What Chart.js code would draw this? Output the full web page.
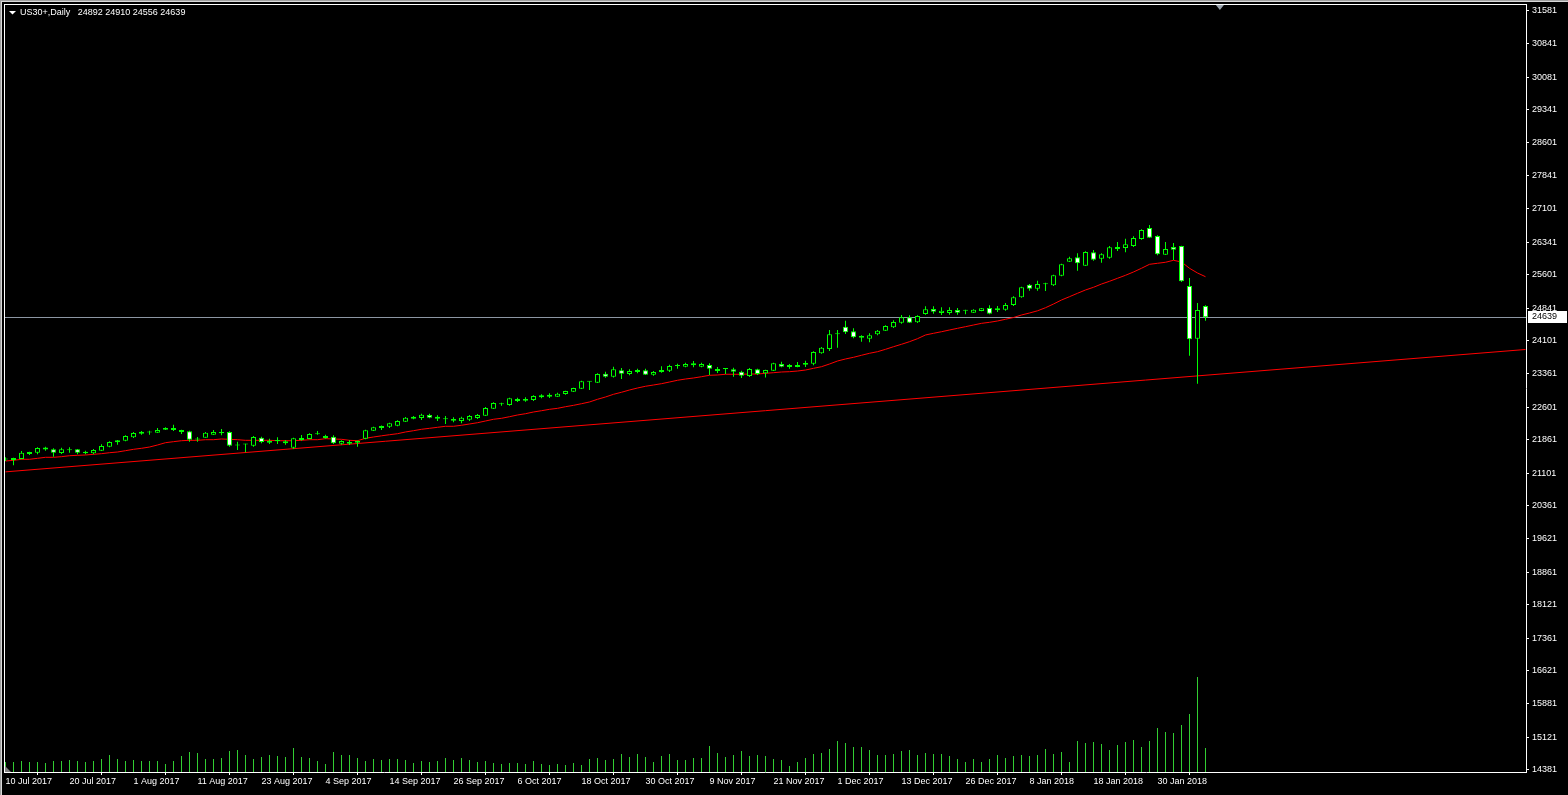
<!DOCTYPE html>
<html>
<head>
<meta charset="utf-8">
<title>US30+,Daily</title>
<script src="https://cdn.jsdelivr.net/npm/chart.js@4.4.1/dist/chart.umd.min.js"></script>
<style>
    html, body { margin: 0; padding: 0; background: #000; }
    canvas { display: block; }
</style>
</head>
<body>
<canvas id="myChart" width="1568" height="795"></canvas>
<script>
const symbol = 'US30+,Daily';

// one date label every 8 bars, first bar = 10 Jul 2017
const tickLabels = ['10 Jul 2017', '20 Jul 2017', '1 Aug 2017', '11 Aug 2017', '23 Aug 2017', '4 Sep 2017',
    '14 Sep 2017', '26 Sep 2017', '6 Oct 2017', '18 Oct 2017', '30 Oct 2017', '9 Nov 2017', '21 Nov 2017',
    '1 Dec 2017', '13 Dec 2017', '26 Dec 2017', '8 Jan 2018', '18 Jan 2018', '30 Jan 2018'];
const tickStep = 8;

const priceTicks = [31581, 30841, 30081, 29341, 28601, 27841, 27101, 26341, 25601, 24841, 24101, 23361,
    22601, 21861, 21101, 20361, 19621, 18861, 18121, 17361, 16621, 15881, 15121, 14381];

const open = [
    21413, 21402, 21424, 21538, 21567, 21640, 21644, 21560, 21624, 21644, 21554, 21554, 21613, 21703, 21803, 21839,
    21916, 21998, 22025, 22021, 22089, 22082, 22082, 22052, 21869, 21908, 21975, 22007, 22037, 21738, 21756, 21726,
    21907, 21794, 21835, 21780, 21681, 21855, 21878, 21988, 21901, 21930, 21771, 21771, 21794, 21885, 22066, 22127,
    22157, 22179, 22270, 22338, 22354, 22422, 22383, 22333, 22293, 22286, 22315, 22354, 22406, 22565, 22668, 22649,
    22739, 22746, 22762, 22823, 22837, 22837, 22898, 22950, 23018, 23173, 23154, 23358, 23290, 23435, 23351, 23397,
    23435, 23336, 23397, 23426, 23530, 23517, 23549, 23517, 23556, 23465, 23467, 23458, 23404, 23306, 23458, 23367,
    23426, 23578, 23510, 23510, 23562, 23585, 23821, 23918, 24255, 24424, 24319, 24175, 24152, 24251, 24333, 24410,
    24514, 24637, 24524, 24712, 24825, 24734, 24734, 24802, 24784, 24741, 24780, 24848, 24796, 24809, 24916, 25090,
    25376, 25285, 25388, 25361, 25580, 25897, 25997, 25807, 26110, 25966, 25988, 26185, 26208, 26253, 26412, 26661,
    26480, 26056, 26231, 26253, 25346, 24152, 24892];
const high = [
    21463, 21450, 21606, 21590, 21690, 21703, 21667, 21681, 21690, 21651, 21613, 21651, 21758, 21826, 21855, 21962,
    22037, 22059, 22066, 22127, 22143, 22202, 22085, 22066, 21923, 22037, 22082, 22105, 22052, 21817, 21772, 21946,
    21930, 21885, 21916, 21855, 21907, 21968, 22007, 22059, 21975, 21962, 21848, 21855, 21844, 22089, 22157, 22184,
    22247, 22302, 22377, 22399, 22452, 22452, 22415, 22399, 22370, 22383, 22422, 22445, 22603, 22710, 22701, 22814,
    22814, 22823, 22869, 22891, 22914, 22928, 22973, 23041, 23200, 23186, 23367, 23404, 23517, 23488, 23458, 23471,
    23471, 23419, 23526, 23562, 23585, 23608, 23646, 23608, 23594, 23510, 23488, 23494, 23426, 23488, 23471, 23449,
    23608, 23631, 23578, 23623, 23653, 23866, 23963, 24349, 24349, 24560, 24387, 24229, 24274, 24349, 24455, 24569,
    24689, 24682, 24682, 24886, 24886, 24863, 24863, 24848, 24809, 24818, 24848, 24909, 24893, 24961, 25113, 25332,
    25391, 25466, 25421, 25602, 25852, 26011, 26088, 26133, 26163, 26088, 26253, 26344, 26419, 26473, 26632, 26729,
    26496, 26344, 26321, 26260, 25528, 24961, 24910];
const low = [
    21379, 21282, 21418, 21515, 21531, 21613, 21477, 21538, 21567, 21531, 21531, 21531, 21606, 21690, 21749, 21826,
    21901, 21975, 21975, 22015, 22080, 22059, 21991, 21817, 21817, 21905, 21968, 21962, 21703, 21628, 21576, 21703,
    21780, 21764, 21764, 21749, 21651, 21839, 21875, 21975, 21885, 21764, 21749, 21742, 21703, 21871, 22059, 22082,
    22127, 22166, 22263, 22324, 22309, 22347, 22286, 22218, 22257, 22234, 22286, 22331, 22399, 22558, 22633, 22633,
    22717, 22723, 22739, 22800, 22807, 22830, 22882, 22943, 23011, 22989, 23147, 23268, 23274, 23238, 23322, 23367,
    23329, 23313, 23381, 23397, 23471, 23503, 23503, 23503, 23329, 23374, 23351, 23290, 23261, 23284, 23329, 23274,
    23419, 23503, 23471, 23503, 23510, 23548, 23812, 23873, 23948, 24258, 24160, 24084, 24070, 24229, 24326, 24394,
    24492, 24508, 24508, 24696, 24719, 24689, 24696, 24696, 24705, 24736, 24775, 24705, 24757, 24786, 24893, 25081,
    25240, 25240, 25233, 25345, 25566, 25893, 25693, 25800, 25920, 25875, 25965, 26140, 26113, 26230, 26396, 26435,
    26042, 26050, 25936, 25437, 23767, 23131, 24556];
const close = [
    21425, 21447, 21567, 21583, 21674, 21685, 21567, 21644, 21628, 21567, 21590, 21628, 21719, 21810, 21848, 21946,
    22014, 22043, 22030, 22082, 22127, 22127, 22037, 21862, 21871, 22021, 22037, 22037, 21726, 21733, 21758, 21923,
    21810, 21839, 21840, 21826, 21894, 21901, 21991, 21993, 21946, 21780, 21832, 21810, 21833, 22075, 22143, 22173,
    22234, 22286, 22361, 22384, 22429, 22361, 22338, 22328, 22331, 22361, 22399, 22422, 22581, 22694, 22673, 22801,
    22785, 22785, 22853, 22869, 22882, 22905, 22966, 23034, 23186, 23178, 23351, 23290, 23458, 23358, 23419, 23442,
    23336, 23397, 23442, 23533, 23535, 23578, 23594, 23578, 23471, 23419, 23462, 23404, 23313, 23465, 23351, 23442,
    23594, 23517, 23556, 23556, 23600, 23850, 23948, 24251, 24260, 24297, 24183, 24213, 24229, 24333, 24440, 24530,
    24637, 24514, 24666, 24818, 24764, 24786, 24802, 24741, 24789, 24809, 24841, 24719, 24841, 24916, 25090, 25317,
    25285, 25391, 25393, 25589, 25838, 25974, 25861, 26117, 25943, 26065, 26224, 26231, 26293, 26435, 26616, 26441,
    26065, 26185, 26169, 25453, 24139, 24802, 24639];

// moving average as shown on the chart
const ma = [
    21379, 21395, 21418, 21418, 21440, 21463, 21463, 21477, 21499, 21508, 21515, 21531, 21545, 21567, 21583, 21613,
    21644, 21667, 21696, 21742, 21794, 21817, 21839, 21848, 21848, 21862, 21862, 21878, 21871, 21862, 21848, 21848,
    21848, 21848, 21839, 21839, 21839, 21848, 21862, 21862, 21885, 21878, 21871, 21848, 21839, 21894, 21923, 21950,
    21975, 21998, 22037, 22066, 22098, 22120, 22143, 22166, 22166, 22189, 22218, 22247, 22286, 22325, 22347, 22383,
    22422, 22451, 22490, 22519, 22551, 22573, 22610, 22641, 22678, 22717, 22778, 22830, 22891, 22937, 22989, 23034,
    23073, 23102, 23132, 23170, 23209, 23238, 23261, 23290, 23322, 23329, 23345, 23345, 23345, 23351, 23351, 23367,
    23381, 23397, 23404, 23419, 23442, 23480, 23517, 23578, 23646, 23692, 23730, 23776, 23821, 23857, 23911, 23970,
    24025, 24084, 24152, 24236, 24274, 24310, 24349, 24387, 24424, 24462, 24500, 24523, 24553, 24592, 24632, 24689,
    24734, 24784, 24854, 24938, 25029, 25104, 25181, 25256, 25317, 25391, 25453, 25521, 25589, 25664, 25748, 25838,
    25861, 25884, 25929, 25890, 25748, 25641, 25557];

// tick volume, thousands
const volume = [
    10, 10, 11, 10, 10, 9, 11, 11, 12, 11, 10, 11, 13, 17, 13, 11, 12, 11, 11, 11, 8, 11, 16, 20, 19, 13, 13, 14, 21, 22,
    17, 13, 15, 17, 16, 15, 24, 15, 14, 11, 8, 20, 17, 17, 14, 11, 13, 12, 13, 13, 12, 9, 11, 10, 11, 14, 12, 14, 12, 10,
    11, 9, 8, 9, 9, 8, 11, 8, 7, 8, 7, 9, 7, 13, 14, 12, 13, 18, 15, 18, 15, 10, 16, 18, 12, 12, 14, 14, 26, 19, 15, 17,
    21, 16, 17, 16, 13, 12, 6, 10, 14, 18, 19, 23, 31, 29, 25, 25, 22, 17, 17, 18, 21, 22, 17, 19, 18, 18, 16, 13, 10, 13,
    10, 13, 17, 14, 16, 17, 16, 17, 23, 18, 20, 10, 31, 29, 30, 28, 22, 27, 30, 32, 25, 31, 44, 40, 39, 47, 58, 95, 24];

// trend line anchors: [bar index, price]
const trendFrom = [0, 21133];
const trendTo = [190, 23907];

const lastPrice = close[close.length - 1];

const white = '#ffffff';
const green = '#00ff00';
const font9 = { family: 'Liberation Sans', size: 9 };

const mt4Decor = {
    id: 'mt4Decor',
    beforeDraw(chart) {
        const ctx = chart.ctx;
        ctx.save();
        ctx.fillStyle = '#000';
        ctx.fillRect(0, 0, chart.width, chart.height);
        // window edge
        ctx.fillStyle = '#a0a0a0';
        ctx.fillRect(0, 0, chart.width, 1);
        ctx.fillRect(0, 0, 1, chart.height);
        ctx.fillStyle = '#d8d8d8';
        ctx.fillRect(1, 1, chart.width - 1, 1);
        ctx.fillRect(1, 1, 1, chart.height - 1);
        ctx.restore();
    },
    beforeDatasetsDraw(chart) {
        const ctx = chart.ctx;
        const a = chart.chartArea;
        const py = Math.floor(chart.scales.y.getPixelForValue(lastPrice));
        ctx.save();
        ctx.fillStyle = '#8c96a3';
        ctx.fillRect(a.left, py, a.right - a.left, 1);
        ctx.restore();
    },
    afterDraw(chart) {
        const ctx = chart.ctx;
        const a = chart.chartArea;
        const n = close.length - 1;
        ctx.save();
        // frame top + left
        ctx.fillStyle = white;
        ctx.fillRect(a.left, a.top, a.right - a.left + 1, 1);
        ctx.fillRect(a.left, a.top, 1, a.bottom - a.top);

        // title
        ctx.beginPath();
        ctx.moveTo(a.left + 5, a.top + 7);
        ctx.lineTo(a.left + 12, a.top + 7);
        ctx.lineTo(a.left + 8.5, a.top + 10.5);
        ctx.closePath();
        ctx.fill();
        ctx.font = '9px "Liberation Sans"';
        ctx.textBaseline = 'middle';
        ctx.textAlign = 'left';
        ctx.fillText(symbol + '   ' + open[n] + ' ' + high[n] + ' ' + low[n] + ' ' + close[n], a.left + 16, a.top + 9);

        // chart shift marker
        const sx = chart.scales.x.getPixelForValue(n + 1.8);
        ctx.fillStyle = '#9aa3ad';
        ctx.beginPath();
        ctx.moveTo(sx - 4, a.top + 1);
        ctx.lineTo(sx + 4, a.top + 1);
        ctx.lineTo(sx, a.top + 6);
        ctx.closePath();
        ctx.fill();

        // small marker bottom-left
        ctx.fillStyle = '#808080';
        ctx.beginPath();
        ctx.moveTo(a.left + 1, a.bottom - 6);
        ctx.lineTo(a.left + 7, a.bottom);
        ctx.lineTo(a.left + 1, a.bottom);
        ctx.closePath();
        ctx.fill();

        // last price label
        const py = chart.scales.y.getPixelForValue(lastPrice);
        ctx.fillStyle = white;
        ctx.fillRect(a.right + 2, Math.round(py) - 6, 39, 12);
        ctx.fillStyle = '#000';
        ctx.fillText(String(lastPrice), a.right + 6, Math.round(py));
        ctx.restore();
    }
};

function getChart() {
    const ctx = document.getElementById('myChart');

    new Chart(ctx, {
        type: 'bar',
        data: {
            datasets: [{
                type: 'bar',
                label: 'Volume',
                yAxisID: 'yv',
                data: volume.map((v, i) => ({ x: i, y: v })),
                backgroundColor: '#32cd32',
                barThickness: 1,
                grouped: false,
                inflateAmount: 0,
                order: 5
            }, {
                type: 'line',
                label: 'Trend',
                data: [{ x: trendFrom[0], y: trendFrom[1] }, { x: trendTo[0], y: trendTo[1] }],
                borderColor: '#ff0000',
                borderWidth: 1,
                pointRadius: 0,
                order: 4
            }, {
                type: 'line',
                label: 'MA',
                data: ma.map((v, i) => ({ x: i, y: v })),
                borderColor: '#ff0000',
                borderWidth: 1,
                pointRadius: 0,
                tension: 0,
                order: 3
            }, {
                type: 'bar',
                label: 'Wick',
                data: high.map((h, i) => ({ x: i, y: [low[i], h] })),
                backgroundColor: green,
                barThickness: 1,
                grouped: false,
                inflateAmount: 0,
                order: 2
            }, {
                type: 'bar',
                label: 'Body',
                data: open.map((o, i) => ({ x: i, y: [o, close[i]] })),
                backgroundColor: (c) => close[c.dataIndex] >= open[c.dataIndex] ? '#000000' : white,
                borderColor: green,
                borderWidth: 1,
                borderSkipped: false,
                barThickness: 5,
                minBarLength: 1,
                grouped: false,
                inflateAmount: 0,
                order: 1
            }]
        },
        options: {
            responsive: false,
            animation: false,
            devicePixelRatio: 1,
            layout: { padding: { left: 4, top: 4, right: 0, bottom: 0 } },
            plugins: {
                legend: { display: false },
                tooltip: { enabled: false }
            },
            scales: {
                x: {
                    type: 'linear',
                    min: -0.1875,
                    max: 190.0625,
                    bounds: 'data',
                    offset: false,
                    grid: { drawOnChartArea: false, drawTicks: true, tickLength: 3, color: white },
                    border: { display: true, color: white },
                    ticks: {
                        color: white,
                        font: font9,
                        align: 'start',
                        autoSkip: false,
                        maxRotation: 0,
                        minRotation: 0,
                        padding: 1,
                        callback: (v, i) => tickLabels[i]
                    },
                    afterBuildTicks: (s) => { s.ticks = tickLabels.map((t, k) => ({ value: k * tickStep })); },
                    afterFit: (s) => { s.height = 23; s.paddingLeft = 0; s.paddingRight = 0; }
                },
                y: {
                    type: 'linear',
                    position: 'right',
                    min: 14329,
                    max: 31739,
                    bounds: 'data',
                    grid: { drawOnChartArea: false, drawTicks: true, tickLength: 3, color: white },
                    border: { display: true, color: white },
                    ticks: {
                        color: white,
                        font: font9,
                        padding: 3,
                        autoSkip: false,
                        callback: (v) => String(v)
                    },
                    afterBuildTicks: (s) => { s.ticks = priceTicks.map(v => ({ value: v })); },
                    afterFit: (s) => { s.width = 42; s.paddingTop = 0; s.paddingBottom = 0; }
                },
                yv: {
                    type: 'linear',
                    display: false,
                    min: 0,
                    max: 768
                }
            }
        },
        plugins: [mt4Decor]
    });
}

document.addEventListener('DOMContentLoaded', (event) => {
    getChart();
});
</script>
</body>
</html>
